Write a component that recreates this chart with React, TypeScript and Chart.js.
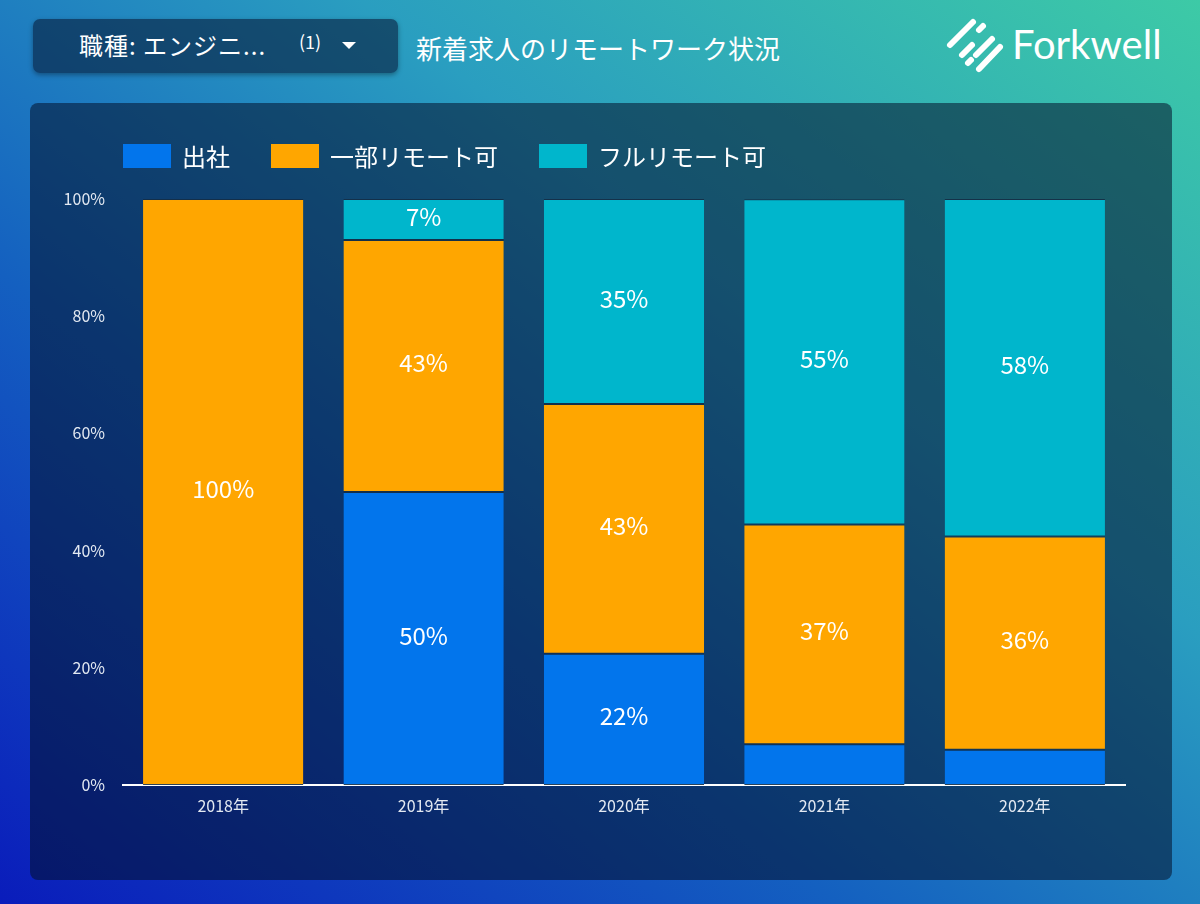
import React, { useEffect, useRef } from "react";
import { Chart, registerables } from "chart.js";

Chart.register(...registerables);

const categories = ["2018年", "2019年", "2020年", "2021年", "2022年"];
const seriesNames = ["出社", "一部リモート可", "フルリモート可"];
const officeValues = [0, 50, 22.4, 6.96, 6.0];
const partialRemoteValues = [100, 43, 42.6, 37.49, 36.4];
const fullRemoteValues = [0, 7, 35.0, 55.49, 57.6];
const yTickValues = [0, 20, 40, 60, 80, 100];
const colors = ["#0275ec", "#ffa600", "#00b6cc"];

const FONT = '"Noto Sans CJK JP", "Noto Sans", sans-serif';

const legendPlugin = {
  id: "customLegend",
  afterDraw(chart: any) {
    const { ctx, chartArea } = chart;
    ctx.save();
    ctx.font = `24px ${FONT}`;
    ctx.textBaseline = "middle";
    ctx.textAlign = "left";
    let x = chartArea.left;
    const y = 53;
    chart.data.datasets.forEach((ds: any) => {
      ctx.fillStyle = ds.backgroundColor;
      ctx.fillRect(x, y - 12, 48, 24);
      ctx.fillStyle = "#ffffff";
      ctx.fillText(ds.label, x + 59, y + 1);
      x += 59 + ctx.measureText(ds.label).width + 41;
    });
    ctx.restore();
  },
};

const labelPlugin = {
  id: "segmentLabels",
  afterDatasetsDraw(chart: any) {
    const { ctx } = chart;
    ctx.save();
    ctx.font = `24px ${FONT}`;
    ctx.fillStyle = "#ffffff";
    ctx.textAlign = "center";
    ctx.textBaseline = "middle";
    chart.data.datasets.forEach((ds: any, di: number) => {
      const meta = chart.getDatasetMeta(di);
      meta.data.forEach((el: any, i: number) => {
        const v = ds.data[i];
        if (v < 7) return;
        const p = el.getCenterPoint();
        ctx.fillText(Math.round(v) + "%", p.x, p.y - 3);
      });
    });
    ctx.restore();
  },
};

function ChartPanel() {
  const ref = useRef<HTMLCanvasElement | null>(null);
  useEffect(() => {
    if (!ref.current) return;
    const seriesValues = [officeValues, partialRemoteValues, fullRemoteValues];
    const chart = new Chart(ref.current, {
      type: "bar",
      data: {
        labels: categories,
        datasets: seriesNames.map((name, i) => ({
          label: name,
          data: seriesValues[i],
          backgroundColor: colors[i],
          borderColor: "rgba(20,45,70,0.9)",
          borderWidth: { top: 1, bottom: 1, left: 0, right: 0 },
          borderSkipped: false,
          barPercentage: 0.8,
          categoryPercentage: 1.0,
        })),
      },
      options: {
        animation: false,
        responsive: true,
        maintainAspectRatio: false,
        layout: { padding: { top: 96, left: 0, right: 47, bottom: 0 } },
        plugins: {
          legend: { display: false },
          tooltip: { enabled: false },
        },
        scales: {
          x: {
            stacked: true,
            grid: { display: false },
            border: { display: true, color: "#ffffff", width: 2 },
            ticks: {
              color: "#e3e9f2",
              font: { family: FONT, size: 16 },
              padding: 3,
            },
            afterFit(scale: any) {
              scale.height = 95;
            },
          },
          y: {
            stacked: true,
            min: 0,
            max: 100,
            grid: { display: false },
            border: { display: false },
            afterBuildTicks(scale: any) {
              scale.ticks = yTickValues.map((v) => ({ value: v }));
            },
            ticks: {
              color: "#e3e9f2",
              font: { family: FONT, size: 16 },
              padding: 10,
              callback: (v: any) => v + "%",
            },
            afterFit(scale: any) {
              scale.width = 93;
            },
          },
        },
      },
      plugins: [legendPlugin, labelPlugin],
    });
    return () => chart.destroy();
  }, []);
  return <canvas ref={ref} />;
}

function Logo() {
  const lines = [
    [950, 45, 973, 22],
    [979, 30, 983, 26],
    [962, 55, 972, 45],
    [976, 55, 992, 39],
    [968, 63, 971, 60],
    [979, 69, 1000, 47],
  ];
  return (
    <svg
      width={1200}
      height={100}
      style={{ position: "absolute", left: 0, top: 0, pointerEvents: "none" }}
    >
      {lines.map((l, i) => (
        <line
          key={i}
          x1={l[0]}
          y1={l[1]}
          x2={l[2]}
          y2={l[3]}
          stroke="#ffffff"
          strokeWidth={6}
          strokeLinecap="round"
        />
      ))}
    </svg>
  );
}

export default function App() {
  useEffect(() => {
    document.body.style.margin = "0";
  }, []);
  return (
    <div
      style={{
        position: "relative",
        width: 1200,
        height: 904,
        overflow: "hidden",
        background:
          "linear-gradient(to top right, #0a1cbb 0%, #1460c0 35%, #2a9ec0 65%, #3dcaa6 100%)",
        fontFamily: FONT,
        color: "#fff",
      }}
    >
      <div
        style={{
          position: "absolute",
          left: 33,
          top: 19,
          width: 365,
          height: 54,
          borderRadius: 7,
          background: "rgba(8,30,62,0.62)",
          boxShadow: "0 2px 5px rgba(0,0,0,0.35)",
        }}
      >
        <span
          style={{
            position: "absolute",
            left: 46,
            top: 10,
            fontSize: 24,
            letterSpacing: 1,
            lineHeight: "32px",
            whiteSpace: "nowrap",
          }}
        >
          職種: エンジニ...
        </span>
        <span
          style={{
            position: "absolute",
            left: 266,
            top: 10,
            fontSize: 18,
            lineHeight: "24px",
          }}
        >
          (1)
        </span>
        <svg
          width={14}
          height={8}
          style={{ position: "absolute", left: 309, top: 23 }}
        >
          <polygon points="0,0 14,0 7,7" fill="#ffffff" />
        </svg>
      </div>
      <div
        style={{
          position: "absolute",
          left: 416,
          top: 31,
          fontSize: 26,
          lineHeight: "34px",
          whiteSpace: "nowrap",
        }}
      >
        新着求人のリモートワーク状況
      </div>
      <Logo />
      <div
        style={{
          position: "absolute",
          left: 1012,
          top: 16,
          fontSize: 40,
          lineHeight: "56px",
          fontFamily: 'Lato, "Noto Sans", sans-serif',
          fontWeight: 400,
          whiteSpace: "nowrap",
        }}
      >
        Forkwell
      </div>
      <div
        style={{
          position: "absolute",
          left: 30,
          top: 103,
          width: 1142,
          height: 777,
          borderRadius: 8,
          background: "rgba(4,16,42,0.55)",
        }}
      >
        <div style={{ position: "absolute", left: 0, top: 0, width: 1142, height: 777 }}>
          <ChartPanel />
        </div>
      </div>
    </div>
  );
}
